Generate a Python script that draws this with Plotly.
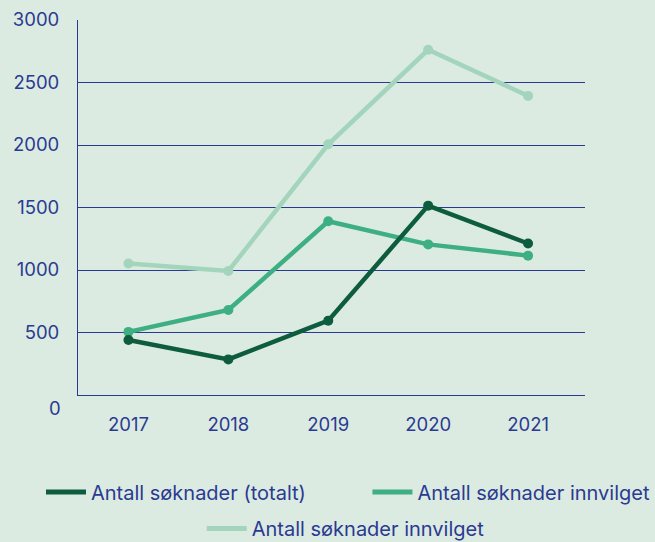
import plotly.graph_objects as go

years = ["2017", "2018", "2019", "2020", "2021"]
totalt = [440, 285, 595, 1515, 1212]
innvilget = [505, 680, 1390, 1205, 1115]
innvilget2 = [1052, 992, 2006, 2762, 2393]
names = ["Antall søknader (totalt)", "Antall søknader innvilget", "Antall søknader innvilget"]
colors = ["#0e5c3f", "#3daf83", "#a3d5bd"]
yticks = [0, 500, 1000, 1500, 2000, 2500, 3000]

BG = "#dbebe1"
BLUE = "#2b3a91"
FONT = "Inter"
FS = 18.5
LFS = 20

fig = go.Figure()
series = [totalt, innvilget, innvilget2]
order = [2, 1, 0]
for i in order:
    fig.add_trace(go.Scatter(
        x=years, y=series[i], mode="lines+markers", name=names[i],
        line=dict(color=colors[i], width=4.5),
        marker=dict(color=colors[i], size=10),
        showlegend=False, cliponaxis=False))
legend_ids = ["legend", "legend2", "legend3"]
for i in range(3):
    fig.add_trace(go.Scatter(
        x=[None], y=[None], mode="lines", name=names[i],
        line=dict(color=colors[i], width=5),
        legend=legend_ids[i]))

# legend positions (container fractions)
leg_pos = [(0.0626, 0.0923), (0.561, 0.0923), (0.308, 0.025)]
legends = {}
for lid, (lx, ly) in zip(legend_ids, leg_pos):
    legends[lid] = dict(orientation="h", xref="container", yref="container",
                        x=lx, xanchor="left", y=ly, yanchor="middle",
                        font=dict(size=LFS, color=BLUE, family=FONT),
                        bgcolor="rgba(0,0,0,0)", itemwidth=40)

fig.update_layout(
    width=655, height=542,
    paper_bgcolor=BG, plot_bgcolor=BG,
    margin=dict(l=77.5, r=70, t=20, b=147, autoexpand=False),
    font=dict(family=FONT, color=BLUE, size=FS),
    xaxis=dict(type="category", range=[-0.505, 4.57], showgrid=False,
               showline=True, linecolor=BLUE, linewidth=1,
               ticks="", ticklabelstandoff=13, zeroline=False,
               tickfont=dict(size=FS, color=BLUE)),
    yaxis=dict(range=[0, 3000], tickvals=yticks,
               ticktext=["" if v == 0 else str(v) for v in yticks],
               showgrid=True, gridcolor=BLUE, gridwidth=1,
               showline=True, linecolor=BLUE, linewidth=1,
               zeroline=False, ticks="", ticklabelstandoff=14,
               tickfont=dict(size=FS, color=BLUE)),
    annotations=[dict(x=0, y=0, xref="paper", yref="y", text="0", showarrow=False,
                      xanchor="right", yanchor="middle", xshift=-15, yshift=-13,
                      font=dict(size=FS, color=BLUE, family=FONT))],
    **legends,
)

fig.write_html("out.html", config={"displayModeBar": False},
               post_script="document.body.style.margin='0';document.body.style.background='%s';" % BG)
